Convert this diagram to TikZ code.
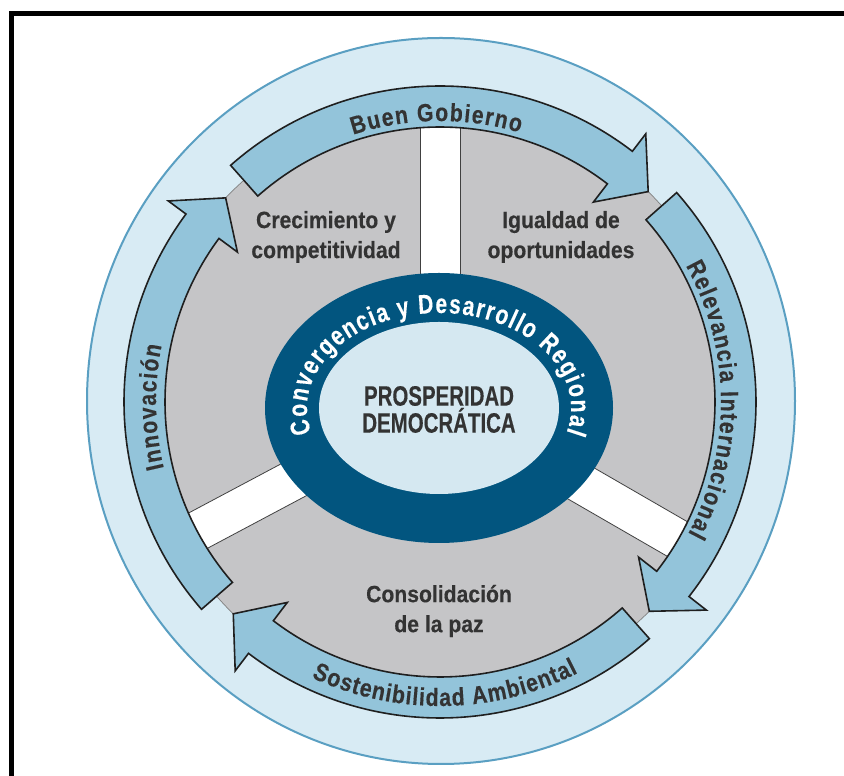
\documentclass[tikz,border=0pt]{standalone}
\usepackage{fontspec}
\setmainfont{Liberation Sans}
\newfontfamily\catfont{Liberation Sans}[FakeStretch=0.9, BoldFeatures={FakeBold=0.3}]
\newfontfamily\labfont{Liberation Sans}[FakeStretch=0.85, BoldFeatures={FakeBold=0.3}]
\newfontfamily\ringfont{Liberation Sans}[FakeStretch=0.78, BoldFeatures={FakeBold=0.3}]
\newfontfamily\midfont{Liberation Sans}[FakeStretch=0.73, BoldFeatures={FakeBold=0.3}]
\usetikzlibrary{decorations.text,calc}
\definecolor{outerfill}{HTML}{D8EBF4}
\definecolor{outerline}{HTML}{5A9FC2}
\definecolor{arrowfill}{HTML}{93C4DA}
\definecolor{diskgray}{HTML}{C5C5C7}
\definecolor{ringblue}{HTML}{02557F}
\definecolor{innerfill}{HTML}{D5E8F1}
\definecolor{txt}{HTML}{333333}
\newcommand{\ringarrow}[3]{%
  \draw[cyclearrow] (#1:316pt) arc[start angle=#1, end angle=#2, radius=316pt]
    -- (#2:338pt) -- (#3:296pt) -- (#2:252pt) -- (#2:275pt)
    arc[start angle=#2, end angle=#1, radius=275pt] -- cycle;}
\newcommand{\whitebar}[1]{%
  \begin{scope}[rotate=#1]
    \fill[white] (0pt,-20pt) rectangle (300pt,20pt);
    \draw[barline] (0pt,20pt) -- (300pt,20pt);
    \draw[barline] (0pt,-20pt) -- (300pt,-20pt);
  \end{scope}}
\tikzset{
  cyclearrow/.style={fill=arrowfill, draw=black!88, line width=1.6pt, line join=miter},
  barline/.style={draw=black!75, line width=0.8pt},
  cattext/.style={font=\catfont\bfseries\fontsize{23.5}{30}\selectfont, text=txt, align=center, inner sep=0pt},
  centertext/.style={font=\midfont\bfseries\fontsize{28}{27}\selectfont, text=txt, align=center, inner sep=0pt},
  arclabel/.style={decorate, decoration={text along path, text align={fit to path}, text color=txt,
      text={|\labfont\bfseries\fontsize{25}{25}\selectfont|#1}}},
}
\begin{document}
\begin{tikzpicture}[x=1pt,y=1pt]
\useasboundingbox (0,0) rectangle (844,776);
\coordinate (C) at (440,374);
\coordinate (E) at (439,368);
% frame
\draw[line width=5pt, line join=miter] (11.5,0) -- (11.5,762.5) -- (844,762.5);
% outer circle
\draw[draw=outerline, line width=2pt, fill=outerfill] (441,375) ellipse[x radius=354pt, y radius=363pt];
% gray disk
\filldraw[fill=diskgray, draw=black!50, line width=0.7pt] (C) circle[radius=296pt];
% white bars
\begin{scope}[shift={(C)}]
  \whitebar{90}
  \whitebar{208}
  \whitebar{-30}
\end{scope}
% central rings
\fill[ringblue] (E) ellipse[x radius=174pt, y radius=135pt];
\fill[innerfill] (E) ellipse[x radius=120pt, y radius=86pt];
% cycle arrows
\begin{scope}[shift={(C)}]
  \ringarrow{131.5}{52.5}{45.3}
  \ringarrow{41.5}{-38}{-45}
  \ringarrow{-48.5}{-127.3}{-134.3}
  \ringarrow{221}{143.5}{136.4}
  % arrow labels
  \path[arclabel={Buen Gobierno}] (108:281pt) arc[start angle=108, end angle=73.5, radius=281pt];
  \path[arclabel={Relevancia Internacional}] (29:281pt) arc[start angle=29, end angle=-28, radius=281pt];
  \path[arclabel={Sostenibilidad Ambiental}] (245:304pt) arc[start angle=245, end angle=297, radius=304pt];
  \path[arclabel={Innovación}] (193.5:284pt) arc[start angle=193.5, end angle=168.5, radius=284pt];
\end{scope}
% ring text
\path[decorate, decoration={text along path, text align={fit to path}, text color=white,
   text={|\ringfont\bfseries\fontsize{27}{27}\selectfont|Convergencia y Desarrollo Regional}}]
   ($(E)+(195:132pt and 95pt)$) arc[start angle=195, end angle=-15, x radius=132pt, y radius=95pt];
% texts
\node[cattext] (crec) at (326,539) {Crecimiento y\\competitividad};
\node[cattext] (igual) at (561,539) {Igualdad de\\oportunidades};
\node[cattext] (conso) at (439,165) {Consolidación\\de la paz};
\node[centertext] (pros) at (439,366.5) {PROSPERIDAD\\DEMOCRÁTICA};
\end{tikzpicture}
\end{document}
